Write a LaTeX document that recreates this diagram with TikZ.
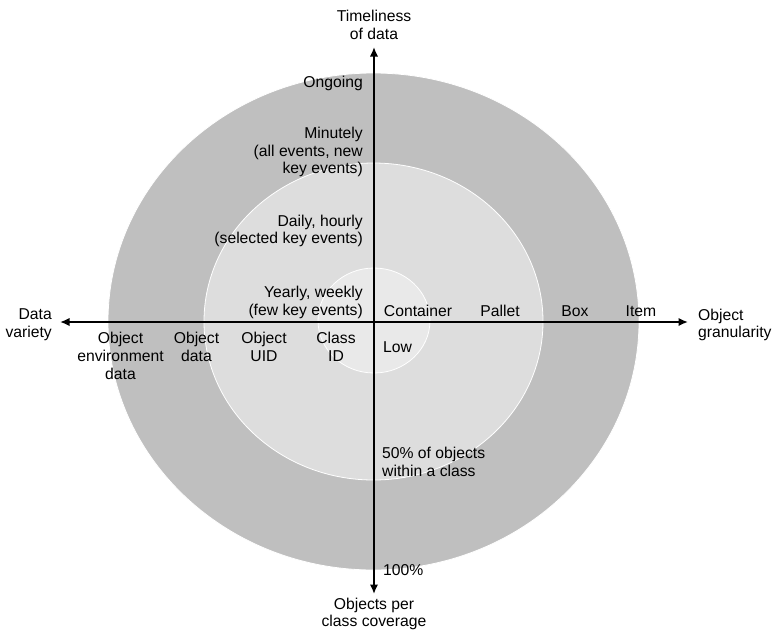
\documentclass[tikz,border=0pt]{standalone}
\usepackage{fontspec}
\setmainfont{Liberation Sans}
\usetikzlibrary{arrows.meta,shapes.geometric}
\definecolor{ringouter}{gray}{0.75}
\definecolor{ringmid}{gray}{0.865}
\definecolor{ringinner}{gray}{0.915}
\begin{document}
\begin{tikzpicture}[x=1pt,y=-1pt,
  lbl/.style={inner sep=0pt, font=\fontsize{15.7}{17.8}\selectfont},
  ring/.style={ellipse, draw=white, line width=0.8pt, inner sep=0pt},
  axis/.style={line width=1.9pt, {Latex[length=9.5pt,width=8.5pt]}-{Latex[length=9.5pt,width=8.5pt]}}]
\useasboundingbox (0,0) rectangle (774,633);

% concentric rings
\node[ring, fill=ringouter, minimum width=531pt, minimum height=497pt] (outer) at (373.5,321.5) {};
\node[ring, fill=ringmid,   minimum width=339pt, minimum height=317pt] (mid)   at (373.5,321.5) {};
\node[ring, fill=ringinner, minimum width=112pt, minimum height=105pt] (inner) at (374,320.5) {};

% axes
\coordinate (west)  at (60,322);
\coordinate (east)  at (688,322);
\coordinate (north) at (374,47);
\coordinate (south) at (374,594);
\draw[axis] (west) -- (east);
\draw[axis] (south) -- (north);

% axis titles
\node[lbl, align=center] (tim) at (374,25) {Timeliness\\of data};
\node[lbl, align=right, anchor=east] (var) at (52,325) {Data\\variety};
\node[lbl, align=left, anchor=west] (gran) at (698,325) {Object\\granularity};
\node[lbl, align=center] (cov) at (374,614) {Objects per\\class coverage};

% timeliness levels
\node[lbl, anchor=east] (ongoing) at (363,83) {Ongoing};
\node[lbl, align=right, anchor=east] (minutely) at (363,152) {Minutely\\(all events, new\\key events)};
\node[lbl, align=right, anchor=east] (daily) at (363,231) {Daily, hourly\\(selected key events)};
\node[lbl, align=right, anchor=east] (yearly) at (363,302.5) {Yearly, weekly\\(few key events)};

% data variety levels
\node[lbl, align=center] (envdata) at (120.5,356) {Object\\environment\\data};
\node[lbl, align=center] (objdata) at (196.5,347) {Object\\data};
\node[lbl, align=center] (objuid) at (264,347) {Object\\UID};
\node[lbl, align=center] (classid) at (336,347) {Class\\ID};

% granularity levels
\node[lbl] (container) at (418,311) {Container};
\node[lbl] (pallet) at (500,311) {Pallet};
\node[lbl] (box) at (575,311) {Box};
\node[lbl] (item) at (641,311) {Item};

% coverage levels
\node[lbl, anchor=west] (low) at (383,347) {Low};
\node[lbl, align=left, anchor=west] (half) at (382,462) {50\% of objects\\within a class};
\node[lbl, anchor=west] (full) at (383,570) {100\%};
\end{tikzpicture}
\end{document}
